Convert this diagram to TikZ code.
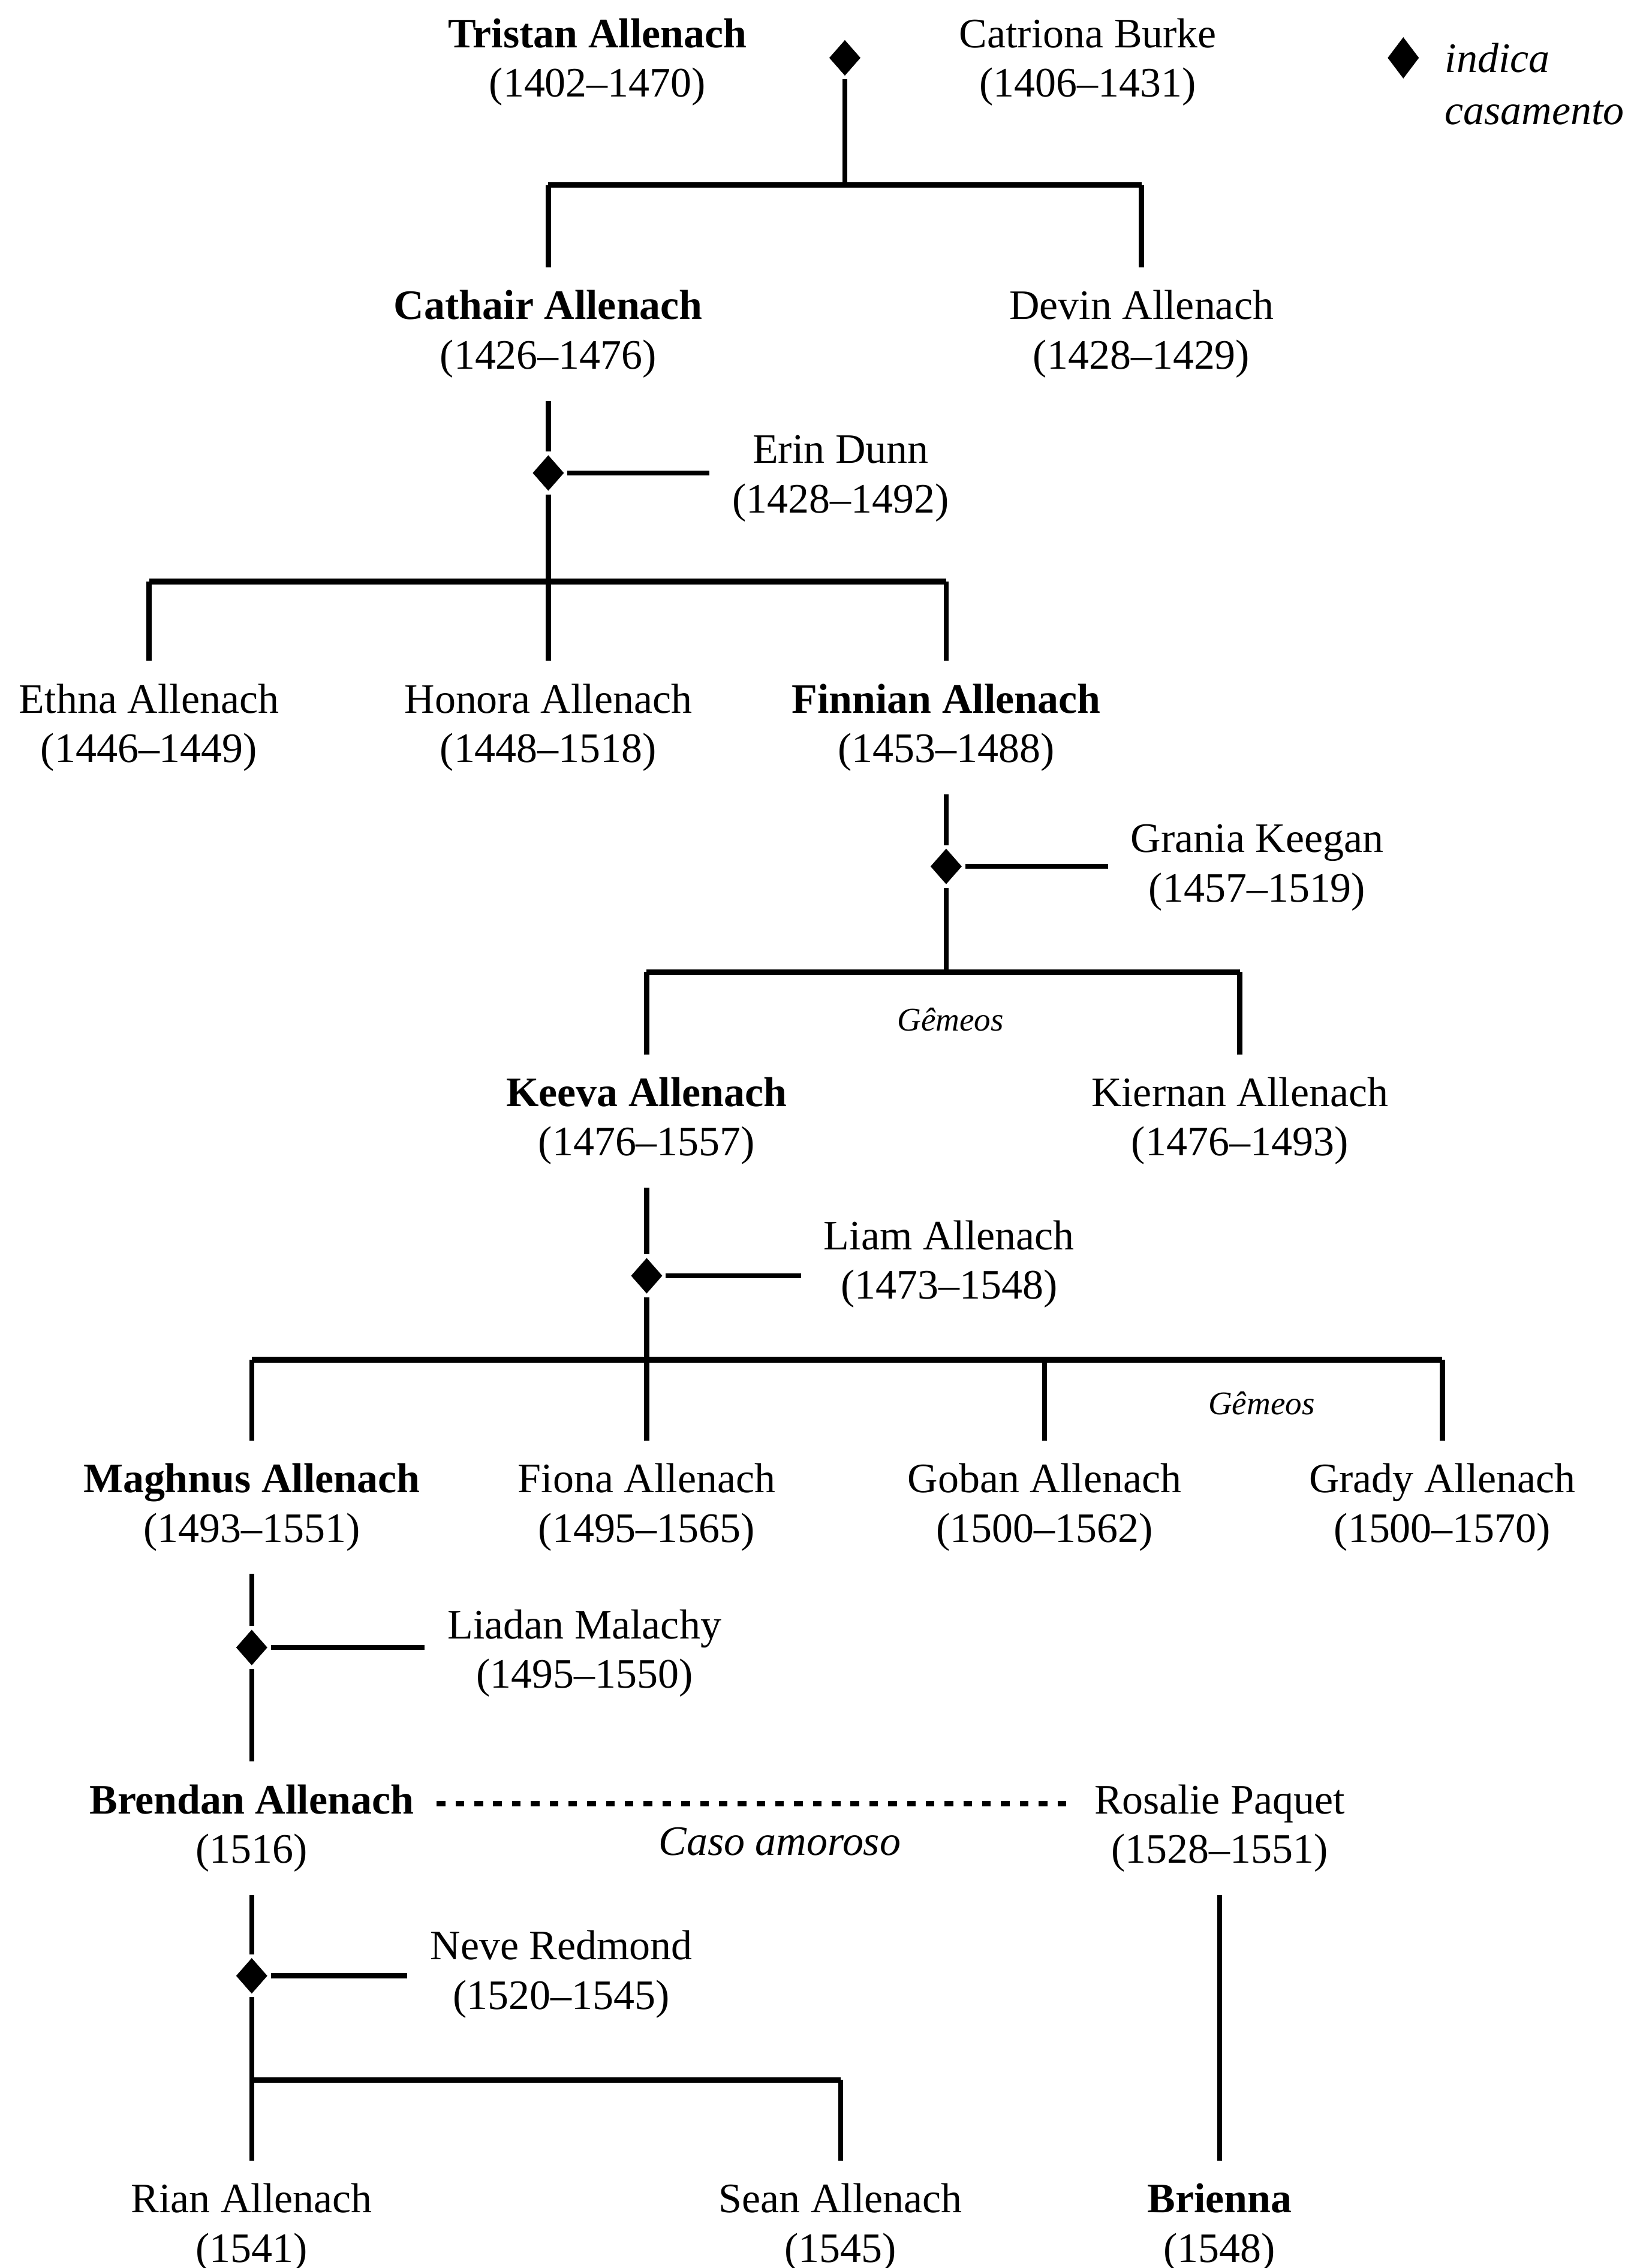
\documentclass[tikz,border=0pt]{standalone}
\usepackage{fontspec}
\setmainfont{Liberation Serif}
\usetikzlibrary{shapes,arrows,positioning}
\tikzstyle{Person} = [align=center, inner sep=8pt, yshift=-0.06cm, font=\fontsize{16.5}{19.5}\selectfont]
\tikzstyle{Wed} = [diamond, fill=black, inner sep=0pt, minimum width=0.46cm, minimum height=0.52cm]
\tikzstyle{Bar} = [line width=2.2pt]
\tikzstyle{Affair} = [line width=2.3pt, dash pattern=on 3.4pt off 4pt]
\tikzstyle{Note} = [inner sep=0pt, font=\fontsize{16.5}{20.5}\selectfont\itshape]
\tikzstyle{Twins} = [inner sep=0pt, font=\fontsize{13}{15}\selectfont\itshape]

\begin{document}
\begin{tikzpicture}[x=0.02cm, y=-0.02cm, line width=2pt]
    \useasboundingbox (0,0) rectangle (1127,1568);
    % legend
    \node[Wed, minimum width=0.46cm, minimum height=0.6cm] (legendmark) at (970,40) {};
    \node[Note, anchor=west, align=left] (legendtext) at (997,58) {indica\\casamento};

    % people
    \node[Person] (tristan)  at (413,40)   {\textbf{Tristan Allenach}\\(1402--1470)};
    \node[Person] (catriona) at (752,40)   {Catriona Burke\\(1406--1431)};
    \node[Person] (cathair)  at (379,228)  {\textbf{Cathair Allenach}\\(1426--1476)};
    \node[Person] (devin)    at (789,228)  {Devin Allenach\\(1428--1429)};
    \node[Person] (erin)     at (581,328)  {Erin Dunn\\(1428--1492)};
    \node[Person] (ethna)    at (103,500)  {Ethna Allenach\\(1446--1449)};
    \node[Person] (honora)   at (379,500)  {Honora Allenach\\(1448--1518)};
    \node[Person] (finnian)  at (654,500)  {\textbf{Finnian Allenach}\\(1453--1488)};
    \node[Person] (grania)   at (869,597)  {Grania Keegan\\(1457--1519)};
    \node[Person] (keeva)    at (447,772)  {\textbf{Keeva Allenach}\\(1476--1557)};
    \node[Person] (kiernan)  at (857,772)  {Kiernan Allenach\\(1476--1493)};
    \node[Person] (liam)     at (656,871)  {Liam Allenach\\(1473--1548)};
    \node[Person] (maghnus)  at (174,1039) {\textbf{Maghnus Allenach}\\(1493--1551)};
    \node[Person] (fiona)    at (447,1039) {Fiona Allenach\\(1495--1565)};
    \node[Person] (goban)    at (722,1039) {Goban Allenach\\(1500--1562)};
    \node[Person] (grady)    at (997,1039) {Grady Allenach\\(1500--1570)};
    \node[Person] (liadan)   at (404,1140) {Liadan Malachy\\(1495--1550)};
    \node[Person] (brendan)  at (174,1261) {\textbf{Brendan Allenach}\\(1516)};
    \node[Person] (rosalie)  at (843,1261) {Rosalie Paquet\\(1528--1551)};
    \node[Person] (neve)     at (388,1362) {Neve Redmond\\(1520--1545)};
    \node[Person] (rian)     at (174,1537) {Rian Allenach\\(1541)};
    \node[Person] (sean)     at (581,1537) {Sean Allenach\\(1545)};
    \node[Person] (brienna)  at (843,1537) {\textbf{Brienna}\\(1548)};

    % marriages
    \node[Wed] (m1) at (584,40)   {};
    \node[Wed] (m2) at (379,327)  {};
    \node[Wed] (m3) at (654,599)  {};
    \node[Wed] (m4) at (447,882)  {};
    \node[Wed] (m5) at (174,1139) {};
    \node[Wed] (m6) at (174,1366) {};

    % sibling bars
    \coordinate (j1)  at (584,128);
    \coordinate (j1l) at (379,128);
    \coordinate (j1r) at (789,128);
    \coordinate (j2)  at (379,402);
    \coordinate (j2l) at (103,402);
    \coordinate (j2r) at (654,402);
    \coordinate (j3)  at (654,672);
    \coordinate (j3l) at (447,672);
    \coordinate (j3r) at (857,672);
    \coordinate (j4)  at (447,940);
    \coordinate (j4l) at (174,940);
    \coordinate (j4m) at (722,940);
    \coordinate (j4r) at (997,940);
    \coordinate (j6)  at (174,1438);
    \coordinate (j6r) at (581,1438);

    \node[Twins] (twins1) at (657,705) {Gêmeos};
    \node[Twins] (twins2) at (872,970) {Gêmeos};

    \draw[Bar] (j1l) -- (j1r);
    \draw[Bar] (j2l) -- (j2r);
    \draw[Bar] (j3l) -- (j3r);
    \draw[Bar] (j4l) -- (j4r);
    \draw[Bar] (j6)  -- (j6r);

    \draw (m1) -- (j1);
    \draw (j1l) -- (cathair);
    \draw (j1r) -- (devin);

    \draw (cathair) -- (m2);
    \draw (m2) -- (j2);
    \draw (m2) -- (m2 -| erin.west);
    \draw (j2l) -- (ethna);
    \draw (j2)  -- (honora);
    \draw (j2r) -- (finnian);

    \draw (finnian) -- (m3);
    \draw (m3) -- (j3);
    \draw (m3) -- (m3 -| grania.west);
    \draw (j3l) -- (keeva);
    \draw (j3r) -- (kiernan);

    \draw (keeva) -- (m4);
    \draw (m4) -- (j4);
    \draw (m4) -- (m4 -| liam.west);
    \draw (j4l) -- (maghnus);
    \draw (j4)  -- (fiona);
    \draw (j4m) -- (goban);
    \draw (j4r) -- (grady);

    \draw (maghnus) -- (m5);
    \draw (m5) -- (brendan);
    \draw (m5) -- (m5 -| liadan.west);

    \draw[Affair] ([yshift=0.34cm]brendan.east) -- ([yshift=0.34cm]rosalie.west);
    \node[Note] (affair) at (539,1273) {Caso amoroso};

    \draw (brendan) -- (m6);
    \draw (m6) -- (j6);
    \draw (m6) -- (m6 -| neve.west);
    \draw (j6)  -- (rian);
    \draw (j6r) -- (sean);
    \draw (rosalie) -- (brienna);
  \end{tikzpicture}
\end{document}
